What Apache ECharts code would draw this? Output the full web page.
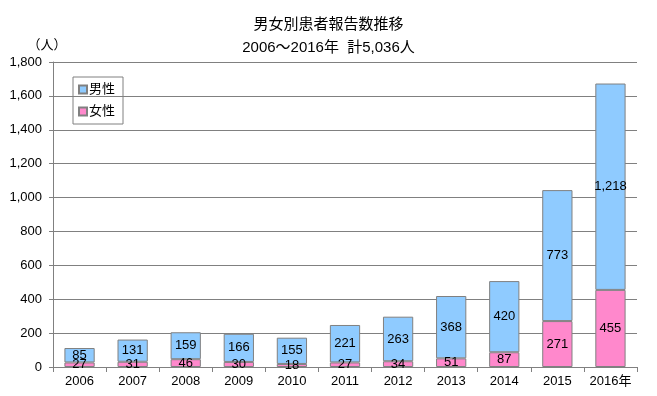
<!DOCTYPE html>
<html>
<head>
<meta charset="utf-8">
<script src="https://cdn.jsdelivr.net/npm/echarts@6/dist/echarts.min.js"></script>
<style>
  html, body { margin: 0; padding: 0; background: #fff; }
  #chart { width: 657px; height: 396px; }
</style>
</head>
<body>
<div id="chart"></div>
<script>
// 年（カテゴリ）
var years = ['2006', '2007', '2008', '2009', '2010', '2011', '2012', '2013', '2014', '2015', '2016年']
// 女性
var female = [27, 31, 46, 30, 18, 27, 34, 51, 87, 271, 455]
// 男性
var male = [85, 131, 159, 166, 155, 221, 263, 368, 420, 773, 1218]

var font = '"Liberation Sans", Arial, "Noto Sans CJK JP", sans-serif'
var grey = '#808080'

var myChart = echarts.init(document.getElementById('chart'))

var option = {
  backgroundColor: '#fff',
  animation: false,
  title: {
    text: '男女別患者報告数推移\n2006～2016年  計5,036人',
    left: 'center',
    top: 8,
    textStyle: {
      fontFamily: font,
      fontSize: 15,
      fontWeight: 'normal',
      color: '#000',
      lineHeight: 23
    }
  },
  legend: {
    orient: 'vertical',
    left: 73,
    top: 77,
    padding: [6, 8, 6, 5],
    itemGap: 9,
    itemWidth: 8,
    itemHeight: 8,
    icon: 'rect',
    borderColor: grey,
    borderWidth: 1,
    data: ['男性', '女性'],
    textStyle: { fontFamily: font, fontSize: 13, color: '#000', padding: [0, 0, 0, -3] }
  },
  grid: {
    left: 53,
    right: 20,
    top: 62,
    bottom: 29
  },
  xAxis: {
    type: 'category',
    data: years,
    axisLine: { lineStyle: { color: grey } },
    axisTick: { show: true, length: 5, lineStyle: { color: grey } },
    axisLabel: { interval: 0, fontFamily: font, fontSize: 13, color: '#000', margin: 8 }
  },
  yAxis: {
    type: 'value',
    min: 0,
    max: 1800,
    interval: 200,
    name: '（人）',
    nameLocation: 'end',
    nameGap: 10,
    nameTextStyle: { fontFamily: font, fontSize: 13, color: '#000', align: 'center', padding: [0, 0, 0, -12] },
    axisLine: { show: true, lineStyle: { color: grey } },
    axisTick: { show: true, length: 4, lineStyle: { color: grey } },
    axisLabel: {
      fontFamily: font,
      fontSize: 13,
      color: '#000',
      margin: 11,
      formatter: function (v) { return v.toLocaleString('en-US') }
    },
    splitLine: { show: true, lineStyle: { color: grey, width: 1 } }
  },
  series: [
    {
      name: '女性',
      type: 'bar',
      stack: 'total',
      barWidth: '57%',
      data: female,
      itemStyle: { color: '#FF88CC', borderColor: grey, borderWidth: 1 },
      label: {
        show: true,
        position: 'inside',
        fontFamily: font,
        fontSize: 13,
        color: '#000',
        formatter: function (p) { return p.value.toLocaleString('en-US') }
      }
    },
    {
      name: '男性',
      type: 'bar',
      stack: 'total',
      barWidth: '57%',
      data: male,
      itemStyle: { color: '#8FCBFF', borderColor: grey, borderWidth: 1 },
      label: {
        show: true,
        position: 'inside',
        fontFamily: font,
        fontSize: 13,
        color: '#000',
        formatter: function (p) { return p.value.toLocaleString('en-US') }
      }
    }
  ]
}

myChart.setOption(option)
</script>
</body>
</html>
